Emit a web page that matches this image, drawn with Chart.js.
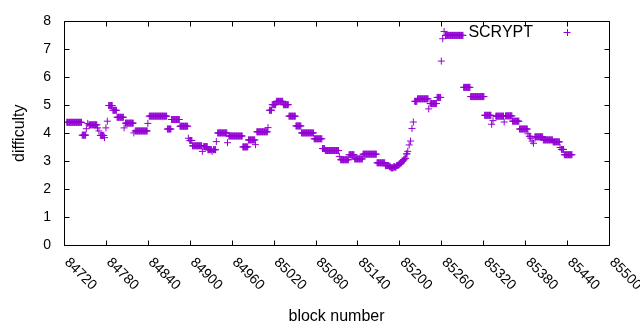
<!DOCTYPE html>
<html>
<head>
<meta charset="utf-8">
<script src="https://cdn.jsdelivr.net/npm/chart.js@4/dist/chart.umd.min.js"></script>
<style>
  html, body { margin: 0; padding: 0; background: #fff; }
  #wrap { width: 640px; height: 330px; }
</style>
</head>
<body>
<div id="wrap"><canvas id="c" width="640" height="330"></canvas></div>
<script>
// ---- data ----
const seriesName = 'SCRYPT';
const xTitle = 'block number';
const yTitle = 'difficulty';
const xTickValues = [84720, 84780, 84840, 84900, 84960, 85020, 85080, 85140, 85200, 85260, 85320, 85380, 85440, 85500];
const yTickValues = [0, 1, 2, 3, 4, 5, 6, 7, 8];

const blockNumbers = [
  84724,84725,84726,84727,84728,84729,84730,84731,84732,84733,84734,84735,84736,84737,84738,84739,84740,84741,84742,84743,84744,84745,
  84746,84747,84748,84749,84750,84751,
  84752,
  84754,
  84756,84757,84758,84759,84760,84761,84762,84763,84764,84765,84766,84767,
  84768,
  84770,
  84772,84773,84774,84775,84776,84777,
  84778,
  84780,
  84782,
  84784,84785,84786,84787,84788,84789,
  84790,84791,84792,84793,84794,84795,
  84796,84797,84798,84799,84800,84801,84802,84803,84804,84805,
  84806,
  84808,84809,84810,84811,84812,84813,84814,84815,84816,84817,84818,84819,
  84820,
  84822,84823,84824,84825,84826,84827,84828,84829,84830,84831,84832,84833,84834,84835,84836,84837,84838,84839,
  84840,
  84842,84843,84844,84845,84846,84847,84848,84849,84850,84851,84852,84853,84854,84855,84856,84857,84858,84859,84860,84861,84862,84863,84864,84865,84866,84867,
  84868,84869,84870,84871,84872,84873,
  84874,84875,84876,84877,84878,84879,84880,84881,84882,84883,84884,84885,
  84886,84887,84888,84889,84890,84891,84892,84893,84894,84895,84896,84897,
  84898,
  84900,84901,84902,84903,
  84904,84905,84906,84907,84908,84909,84910,84911,84912,84913,84914,84915,84916,84917,
  84918,
  84920,84921,84922,84923,84924,84925,
  84926,84927,84928,84929,84930,84931,
  84932,
  84934,84935,84936,84937,
  84938,
  84940,84941,84942,84943,84944,84945,84946,84947,84948,84949,84950,84951,84952,84953,
  84954,
  84956,84957,84958,84959,84960,84961,84962,84963,84964,84965,84966,84967,84968,84969,84970,84971,84972,84973,84974,84975,
  84976,84977,84978,84979,84980,84981,84982,84983,
  84984,84985,84986,84987,84988,84989,84990,84991,84992,84993,
  84994,
  84996,84997,84998,84999,85000,85001,85002,85003,85004,85005,85006,85007,85008,85009,85010,85011,
  85012,
  85014,85015,85016,85017,
  85018,85019,85020,85021,85022,85023,
  85024,85025,85026,85027,85028,85029,85030,85031,85032,85033,
  85034,85035,85036,85037,85038,85039,85040,85041,
  85042,85043,85044,85045,85046,85047,85048,85049,85050,85051,
  85052,85053,85054,85055,85056,85057,85058,85059,
  85060,85061,85062,85063,85064,85065,85066,85067,85068,85069,85070,85071,85072,85073,85074,85075,85076,85077,
  85078,85079,85080,85081,85082,85083,85084,85085,85086,85087,85088,85089,
  85090,85091,85092,85093,
  85094,85095,85096,85097,85098,85099,85100,85101,85102,85103,85104,85105,85106,85107,85108,85109,85110,85111,85112,85113,
  85114,
  85116,85117,85118,85119,85120,85121,85122,85123,85124,85125,85126,85127,
  85128,85129,85130,85131,85132,85133,85134,85135,
  85136,85137,85138,85139,85140,85141,85142,85143,85144,85145,85146,85147,
  85148,85149,85150,85151,85152,85153,85154,85155,85156,85157,85158,85159,85160,85161,85162,85163,85164,85165,85166,85167,
  85168,85169,85170,85171,85172,85173,85174,85175,85176,85177,85178,85179,
  85180,85181,85182,85183,85184,85185,85186,85187,85188,85189,85190,85191,85192,85193,85194,85195,85196,85197,
  85198,85199,85200,85201,85202,85203,85204,85205,85206,85207,85208,85209,
  85210,85211,
  85212,85214,85216,85218,85220,
  85222,85223,85224,85225,
  85226,85227,85228,85229,85230,85231,85232,85233,85234,85235,85236,85237,85238,85239,85240,85241,
  85242,
  85244,85245,85246,85247,85248,85249,85250,85251,85252,85253,
  85254,85255,85256,85257,85258,85259,
  85260,85262,85264,
  85266,85267,85268,85269,85270,85271,85272,85273,85274,85275,85276,85277,85278,85279,85280,85281,85282,85283,85284,85285,85286,85287,85288,85289,85290,85291,
  85292,85293,85294,85295,85296,85297,85298,85299,85300,85301,
  85302,85303,85304,85305,85306,85307,85308,85309,85310,85311,85312,85313,85314,85315,85316,85317,85318,85319,85320,85321,
  85322,85323,85324,85325,85326,85327,85328,85329,85330,85331,
  85332,85334,
  85338,85339,85340,85341,85342,85343,85344,85345,85346,85347,85348,85349,
  85350,
  85352,85353,85354,85355,85356,85357,85358,85359,85360,85361,
  85362,85363,85364,85365,85366,85367,85368,85369,85370,85371,
  85372,85373,85374,85375,85376,85377,85378,85379,85380,85381,85382,85383,
  85384,85386,85387,85388,85390,85392,
  85394,85395,85396,85397,85398,85399,85400,85401,85402,85403,85404,85405,
  85406,85407,85408,85409,85410,85411,85412,85413,85414,85415,85416,85417,85418,85419,
  85420,85421,85422,85423,85424,85425,85426,85427,85428,85429,
  85430,
  85432,85433,85434,85435,
  85436,85437,85438,85439,85440,85441,85442,85443,85444,85445,85446,85447
];

const difficulty = [
  4.39,4.39,4.39,4.39,4.39,4.39,4.39,4.39,4.39,4.39,4.39,4.39,4.39,4.39,4.39,4.39,4.39,4.39,4.39,4.39,4.39,4.39,
  3.93,3.93,3.93,3.93,3.93,3.93,
  4.16,
  4.35,
  4.30,4.30,4.30,4.30,4.30,4.30,4.30,4.30,4.30,4.30,4.30,4.30,
  4.19,
  4.08,
  3.92,3.92,3.92,3.92,3.92,3.92,
  3.84,
  4.19,
  4.43,
  4.99,4.99,4.99,4.99,4.99,4.99,
  4.82,4.82,4.82,4.82,4.82,4.82,
  4.57,4.57,4.57,4.57,4.57,4.57,4.57,4.57,4.57,4.57,
  4.19,
  4.36,4.36,4.36,4.36,4.36,4.36,4.36,4.36,4.36,4.36,4.36,4.36,
  4.01,
  4.08,4.08,4.08,4.08,4.08,4.08,4.08,4.08,4.08,4.08,4.08,4.08,4.08,4.08,4.08,4.08,4.08,4.08,
  4.35,
  4.61,4.61,4.61,4.61,4.61,4.61,4.61,4.61,4.61,4.61,4.61,4.61,4.61,4.61,4.61,4.61,4.61,4.61,4.61,4.61,4.61,4.61,4.61,4.61,4.61,4.61,
  4.15,4.15,4.15,4.15,4.15,4.15,
  4.49,4.49,4.49,4.49,4.49,4.49,4.49,4.49,4.49,4.49,4.49,4.49,
  4.25,4.25,4.25,4.25,4.25,4.25,4.25,4.25,4.25,4.25,4.25,4.25,
  3.82,
  3.74,3.74,3.74,3.74,
  3.55,3.55,3.55,3.55,3.55,3.55,3.55,3.55,3.55,3.55,3.55,3.55,3.55,3.55,
  3.35,
  3.52,3.52,3.52,3.52,3.52,3.52,
  3.41,3.41,3.41,3.41,3.41,3.41,
  3.35,
  3.41,3.41,3.41,3.41,
  3.70,
  4.01,4.01,4.01,4.01,4.01,4.01,4.01,4.01,4.01,4.01,4.01,4.01,4.01,4.01,
  3.66,
  3.90,3.90,3.90,3.90,3.90,3.90,3.90,3.90,3.90,3.90,3.90,3.90,3.90,3.90,3.90,3.90,3.90,3.90,3.90,3.90,
  3.51,3.51,3.51,3.51,3.51,3.51,3.51,3.51,
  3.76,3.76,3.76,3.76,3.76,3.76,3.76,3.76,3.76,3.76,
  3.59,
  4.05,4.05,4.05,4.05,4.05,4.05,4.05,4.05,4.05,4.05,4.05,4.05,4.05,4.05,4.05,4.05,
  4.20,
  4.82,4.82,4.82,4.82,
  5.02,5.02,5.02,5.02,5.02,5.02,
  5.14,5.14,5.14,5.14,5.14,5.14,5.14,5.14,5.14,5.14,
  5.02,5.02,5.02,5.02,5.02,5.02,5.02,5.02,
  4.61,4.61,4.61,4.61,4.61,4.61,4.61,4.61,4.61,4.61,
  4.26,4.26,4.26,4.26,4.26,4.26,4.26,4.26,
  4.01,4.01,4.01,4.01,4.01,4.01,4.01,4.01,4.01,4.01,4.01,4.01,4.01,4.01,4.01,4.01,4.01,4.01,
  3.80,3.80,3.80,3.80,3.80,3.80,3.80,3.80,3.80,3.80,3.80,3.80,
  3.45,3.45,3.45,3.45,
  3.38,3.38,3.38,3.38,3.38,3.38,3.38,3.38,3.38,3.38,3.38,3.38,3.38,3.38,3.38,3.38,3.38,3.38,3.38,3.38,
  3.17,
  3.05,3.05,3.05,3.05,3.05,3.05,3.05,3.05,3.05,3.05,3.05,3.05,
  3.23,3.23,3.23,3.23,3.23,3.23,3.23,3.23,
  3.08,3.08,3.08,3.08,3.08,3.08,3.08,3.08,3.08,3.08,3.08,3.08,
  3.25,3.25,3.25,3.25,3.25,3.25,3.25,3.25,3.25,3.25,3.25,3.25,3.25,3.25,3.25,3.25,3.25,3.25,3.25,3.25,
  2.94,2.94,2.94,2.94,2.94,2.94,2.94,2.94,2.94,2.94,2.94,2.94,
  2.84,2.84,2.84,2.84,2.84,2.84,2.80,2.80,2.76,2.76,2.76,2.76,2.80,2.80,2.78,2.78,2.84,2.84,
  2.86,2.86,2.90,2.90,2.94,2.94,3.00,3.00,3.05,3.05,3.10,3.10,
  3.26,3.26,
  3.35,3.58,3.72,4.17,4.40,
  5.14,5.14,5.14,5.14,
  5.23,5.23,5.23,5.23,5.23,5.23,5.23,5.23,5.23,5.23,5.23,5.23,5.23,5.23,5.23,5.23,
  4.87,
  5.06,5.06,5.06,5.06,5.06,5.06,5.06,5.06,5.06,5.06,
  5.28,5.28,5.28,5.28,5.28,5.28,
  6.58,7.38,7.64,
  7.50,7.50,7.50,7.50,7.50,7.50,7.50,7.50,7.50,7.50,7.50,7.50,7.50,7.50,7.50,7.50,7.50,7.50,7.50,7.50,7.50,7.50,7.50,7.50,7.50,7.50,
  5.64,5.64,5.64,5.64,5.64,5.64,5.64,5.64,5.64,5.64,
  5.31,5.31,5.31,5.31,5.31,5.31,5.31,5.31,5.31,5.31,5.31,5.31,5.31,5.31,5.31,5.31,5.31,5.31,5.31,5.31,
  4.64,4.64,4.64,4.64,4.64,4.64,4.64,4.64,4.64,4.64,
  4.32,4.45,
  4.61,4.61,4.61,4.61,4.61,4.61,4.61,4.61,4.61,4.61,4.61,4.61,
  4.40,
  4.62,4.62,4.62,4.62,4.62,4.62,4.62,4.62,4.62,4.62,
  4.43,4.43,4.43,4.43,4.43,4.43,4.43,4.43,4.43,4.43,
  4.15,4.15,4.15,4.15,4.15,4.15,4.15,4.15,4.15,4.15,4.15,4.15,
  3.98,3.89,3.89,3.82,3.72,3.64,
  3.87,3.87,3.87,3.87,3.87,3.87,3.87,3.87,3.87,3.87,3.87,3.87,
  3.76,3.76,3.76,3.76,3.76,3.76,3.76,3.76,3.76,3.76,3.76,3.76,3.76,3.76,
  3.69,3.69,3.69,3.69,3.69,3.69,3.69,3.69,3.69,3.69,
  3.49,
  3.42,3.42,3.42,3.42,
  3.23,3.23,3.23,3.23,3.23,3.23,3.23,3.23,3.23,3.23,3.23,3.23
];

// ---- styling ----
const POINT_COLOR = '#9400d3';
const FONT = '"Liberation Sans", Arial, sans-serif';

const points = blockNumbers.map((b, i) => ({ x: b, y: difficulty[i] }));

const framePlugin = {
  id: 'gnuplotFrame',
  beforeDraw(chart) {
    const { ctx, width, height } = chart;
    ctx.save();
    ctx.fillStyle = '#ffffff';
    ctx.fillRect(0, 0, width, height);
    ctx.restore();
  },
  afterDatasetsDraw(chart) {
    const { ctx, chartArea: a, scales: { x, y } } = chart;
    const L = Math.round(a.left) + 0.5, R = Math.round(a.right) + 0.5;
    const T = Math.round(a.top) + 0.5, B = Math.round(a.bottom) + 0.5;
    const TL = 5;
    ctx.save();
    ctx.strokeStyle = '#000';
    ctx.lineWidth = 1;
    ctx.beginPath();
    ctx.rect(L, T, R - L, B - T);
    xTickValues.forEach(v => {
      const px = Math.round(x.getPixelForValue(v)) + 0.5;
      ctx.moveTo(px, B); ctx.lineTo(px, B - TL);
      ctx.moveTo(px, T); ctx.lineTo(px, T + TL);
    });
    yTickValues.forEach(v => {
      const py = Math.round(y.getPixelForValue(v)) + 0.5;
      ctx.moveTo(L, py); ctx.lineTo(L + TL, py);
      ctx.moveTo(R, py); ctx.lineTo(R - TL, py);
    });
    ctx.stroke();

    // rotated x tick labels (gnuplot style, -45 deg)
    ctx.fillStyle = '#000';
    ctx.font = '14px ' + FONT;
    ctx.textAlign = 'left';
    ctx.textBaseline = 'alphabetic';
    xTickValues.forEach(v => {
      const px = x.getPixelForValue(v);
      ctx.save();
      ctx.translate(px, a.bottom + 18);
      ctx.rotate(Math.PI / 4);
      ctx.fillText(String(v), 0, 0);
      ctx.restore();
    });

    // key: text then point sample
    ctx.font = '16px ' + FONT;
    ctx.textAlign = 'right';
    ctx.textBaseline = 'middle';
    ctx.fillText(seriesName, 533, 32.5);
    ctx.strokeStyle = POINT_COLOR;
    ctx.lineWidth = 1;
    ctx.beginPath();
    ctx.moveTo(563.5, 32.5); ctx.lineTo(570.5, 32.5);
    ctx.moveTo(567.5, 29); ctx.lineTo(567.5, 36);
    ctx.stroke();
    ctx.restore();
  }
};

new Chart(document.getElementById('c'), {
  type: 'scatter',
  data: {
    datasets: [{
      label: seriesName,
      data: points,
      showLine: false,
      pointStyle: 'cross',
      pointRadius: 3.5,
      pointHoverRadius: 3.5,
      pointBorderWidth: 1,
      pointBorderColor: POINT_COLOR,
      pointBackgroundColor: POINT_COLOR
    }]
  },
  options: {
    responsive: false,
    animation: false,
    devicePixelRatio: 1,
    layout: { padding: { top: 18, right: 31, left: 0, bottom: 0 } },
    plugins: {
      legend: { display: false },
      tooltip: { enabled: false }
    },
    scales: {
      x: {
        type: 'linear',
        min: 84720,
        max: 85500,
        afterBuildTicks: s => { s.ticks = xTickValues.map(v => ({ value: v })); },
        afterFit: s => { s.height = 85; },
        ticks: { display: false },
        grid: { display: false, drawTicks: false },
        border: { display: false },
        title: {
          display: true,
          text: xTitle,
          color: '#000',
          font: { family: FONT, size: 16 },
          padding: { top: 0, bottom: 4 }
        }
      },
      y: {
        type: 'linear',
        min: 0,
        max: 8,
        afterBuildTicks: s => { s.ticks = yTickValues.map(v => ({ value: v })); },
        afterFit: s => { s.width = 64; },
        ticks: {
          color: '#000',
          font: { family: FONT, size: 14 },
          padding: 13
        },
        grid: { display: false, drawTicks: false },
        border: { display: false },
        title: {
          display: true,
          text: yTitle,
          color: '#000',
          font: { family: FONT, size: 16 },
          padding: { top: 10, bottom: 0 }
        }
      }
    }
  },
  plugins: [framePlugin]
});
</script>
</body>
</html>
